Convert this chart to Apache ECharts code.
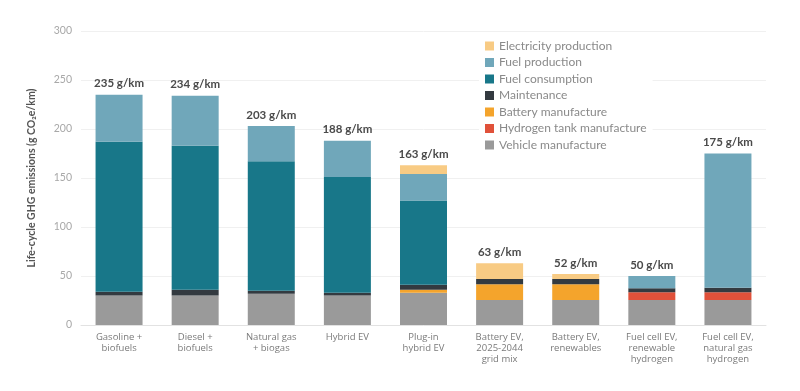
<!DOCTYPE html>
<html><head><meta charset="utf-8">
<script src="https://cdn.jsdelivr.net/npm/echarts@6/dist/echarts.min.js"></script>
<style>html,body{margin:0;padding:0;background:#fff}#c{width:800px;height:391px}</style>
</head><body><div id="c"></div>
<script>
const categories = ["Gasoline +\nbiofuels","Diesel +\nbiofuels","Natural gas\n+ biogas","Hybrid EV","Plug-in\nhybrid EV","Battery EV,\n2025-2044\ngrid mix","Battery EV,\nrenewables","Fuel cell EV,\nrenewable\nhydrogen","Fuel cell EV,\nnatural gas\nhydrogen"];
const vehicleManufacture = [30, 30, 32, 30, 33, 25.5, 25.5, 25.5, 25.5];
const hydrogenTank = [0, 0, 0, 0, 0, 0, 0, 8, 8];
const batteryManufacture = [0, 0, 0, 0, 3, 16, 16, 0, 0];
const maintenance = [4, 6, 3, 3, 5, 5.5, 5.5, 4, 4.5];
const fuelConsumption = [153, 147, 132, 118, 86, 0, 0, 0, 0];
const fuelProduction = [48, 51, 36, 37, 27, 0, 0, 12.5, 137];
const electricityProduction = [0, 0, 0, 0, 9, 16, 5, 0, 0];
const totals = [235, 234, 203, 188, 163, 63, 52, 50, 175];
const yTicks = [0, 50, 100, 150, 200, 250, 300];

const FONT = 'Lato';
function seg(name, data, color) {
  return { name, type: 'bar', stack: 'a', data, barWidth: 47, itemStyle: { color }, emphasis: { disabled: true } };
}
const series = [
  seg('Vehicle manufacture', vehicleManufacture, '#9a9a9a'),
  seg('Hydrogen tank manufacture', hydrogenTank, '#e0513a'),
  seg('Battery manufacture', batteryManufacture, '#f4a42c'),
  seg('Maintenance', maintenance, '#333a40'),
  seg('Fuel consumption', fuelConsumption, '#187789'),
  seg('Fuel production', fuelProduction, '#70a7ba'),
  seg('Electricity production', electricityProduction, '#f8cb84'),
  { name: 'total', type: 'bar', stack: 'a', barWidth: 47, data: totals.map(() => 0),
    itemStyle: { color: 'transparent' },
    label: { show: true, position: 'top', distance: 5, fontFamily: FONT, fontWeight: 'bold', fontSize: 11.5, color: '#4a4a4a',
      formatter: p => totals[p.dataIndex] + ' g/km' } }
];
const chart = echarts.init(document.getElementById('c'), null, { renderer: 'canvas' });
chart.setOption({
  animation: false,
  grid: { left: 81, right: 34, top: 31, bottom: 66 },
  legend: {
    orient: 'vertical', left: 479, top: 37,
    data: ['Electricity production','Fuel production','Fuel consumption','Maintenance','Battery manufacture','Hydrogen tank manufacture','Vehicle manufacture'],
    icon: 'rect', itemWidth: 9, itemHeight: 9, itemGap: 4.5,
    backgroundColor: '#fff', padding: [3, 6, 3, 6],
    textStyle: { fontFamily: FONT, fontSize: 12, color: '#8a8a8a', lineHeight: 12 },
    selectedMode: false
  },
  xAxis: {
    type: 'category', data: categories,
    axisLine: { lineStyle: { color: '#e2e2e2' } }, axisTick: { show: false },
    axisLabel: { fontFamily: 'Open Sans', fontSize: 9.5, color: '#7a7a7a', lineHeight: 11, margin: 7, interval: 0 }
  },
  yAxis: {
    type: 'value', min: yTicks[0], max: yTicks[yTicks.length - 1], interval: 50,
    name: 'Life-cycle GHG emissions (g CO₂e/km)', nameLocation: 'middle', nameGap: 44,
    nameTextStyle: { fontFamily: FONT, fontSize: 10.5, color: '#555', fontWeight: 'bold' },
    axisLine: { show: false }, axisTick: { show: false },
    splitLine: { lineStyle: { color: '#f0f0f0' } },
    axisLabel: { fontFamily: FONT, fontSize: 10.5, color: '#a8a8a8', margin: 9 }
  },
  series
});
</script></body></html>
